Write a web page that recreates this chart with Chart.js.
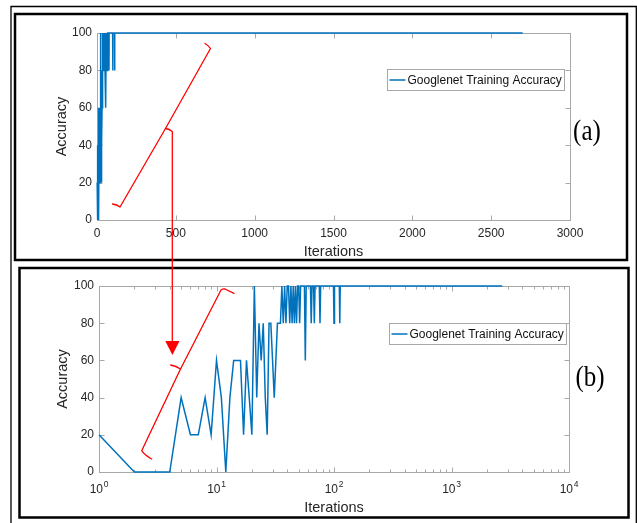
<!DOCTYPE html>
<html>
<head>
<meta charset="utf-8">
<script src="https://cdn.jsdelivr.net/npm/chart.js@4.4.1/dist/chart.umd.min.js"></script>
<style>
  html, body { margin: 0; padding: 0; background: #fff; }
  #wrap { position: relative; width: 637px; height: 523px; overflow: hidden; }
  #wrap canvas { position: absolute; left: 0; }
  #chartA { top: 0; width: 637px; height: 262px; }
  #chartB { top: 262px; width: 637px; height: 261px; }
  #overlay { position: absolute; left: 0; top: 0; pointer-events: none; }
</style>
</head>
<body>
<div id="wrap">
  <canvas id="chartA" width="637" height="262"></canvas>
  <canvas id="chartB" width="637" height="261"></canvas>
  <svg id="overlay" width="637" height="523" xmlns="http://www.w3.org/2000/svg">
    <!-- frames -->
    <polyline points="11,540 11,6.5 636.3,6.5 636.3,540" fill="none" stroke="#000" stroke-width="1.3"/>
    <rect x="15" y="14" width="612" height="246" fill="none" stroke="#000" stroke-width="2.5"/>
    <rect x="19.5" y="268" width="609" height="249.5" fill="none" stroke="#000" stroke-width="2.5"/>
    <!-- panel tags -->
    <text transform="translate(587,139.5) scale(1,1.15)" text-anchor="middle"
          font-family="Liberation Serif, Times New Roman, serif" font-size="25" fill="#000">(a)</text>
    <text transform="translate(590,386) scale(1,1.15)" text-anchor="middle"
          font-family="Liberation Serif, Times New Roman, serif" font-size="25" fill="#000">(b)</text>
    <!-- red annotations -->
    <g fill="none" stroke="#ff0000" stroke-width="1.3" stroke-linejoin="round" stroke-linecap="round">
      <path d="M112.5,204 Q117,204.5 120,207 L165.5,128.5 L210.5,48.5 Q208.5,45.5 205,43.5"/>
      <path d="M165.5,128.5 Q169.5,129 172.3,131.5 L172.3,342"/>
      <path d="M151.7,459 Q145,455.5 141.7,450.7 L180.5,369 L221,290 Q223,288.5 225,289 L234,293.3"/>
      <path d="M180.5,369 Q176,366 170.7,365"/>
    </g>
    <polygon points="165.3,341 179.5,341 172.4,355" fill="#ff0000"/>
  </svg>
</div>
<script>
// Googlenet training accuracy per iteration
const iterations = [
  1, 2, 3, 4, 5, 6, 7, 8, 9, 10,
  11, 12, 13, 14, 15, 16, 17, 18, 19, 20,
  21, 22, 23, 24, 25, 26, 27, 28, 29, 30,
  31, 32, 33, 34, 35, 36, 37, 38, 39, 40,
  41, 42, 43, 44, 45, 46, 47, 48, 49, 50,
  51, 52, 56, 57, 58, 63, 64, 65, 67, 68,
  69, 75, 76, 77, 99, 100, 101, 111, 112, 113,
  2700
];
const accuracy = [
  20, 0, 0, 0, 40, 20, 20, 40, 20, 60,
  40, 0, 40, 60, 60, 60, 20, 60, 40, 20,
  100, 40, 80, 60, 80, 40, 20, 80, 80, 60,
  40, 60, 80, 80, 80, 100, 80, 100, 80, 100,
  100, 80, 100, 80, 100, 80, 100, 80, 100, 100,
  80, 100, 100, 60, 100, 100, 80, 100, 100, 80,
  100, 100, 80, 100, 100, 80, 100, 100, 80, 100,
  100
];

const linearTicks = [0, 500, 1000, 1500, 2000, 2500, 3000];
const logTicks = [1, 10, 100, 1000, 10000];
const logExponents = ['0', '1', '2', '3', '4'];
const accuracyTicks = [0, 20, 40, 60, 80, 100];
const seriesLabel = 'Googlenet Training Accuracy';

const FONT = '"Liberation Sans", Arial, Helvetica, sans-serif';
const axisColor = '#a8a8a8';
const lineColor = '#0072bd';
const textColor = '#262626';

Chart.defaults.font.family = FONT;
Chart.defaults.font.size = 12;
Chart.defaults.color = textColor;

// box round the plot with inward tick marks (MATLAB style)
const boxTicks = {
  id: 'boxTicks',
  beforeDatasetsDraw(chart, args, opts) {
    const { ctx, chartArea: a, scales: { x, y } } = chart;
    ctx.save();
    ctx.strokeStyle = axisColor;
    ctx.lineWidth = 1;
    const L = Math.round(a.left) + 0.5, R = Math.round(a.right) + 0.5;
    const T = Math.round(a.top) + 0.5, B = Math.round(a.bottom) + 0.5;
    ctx.strokeRect(L, T, R - L, B - T);
    ctx.beginPath();
    const xMark = (v, len) => {
      const px = Math.round(x.getPixelForValue(v)) + 0.5;
      ctx.moveTo(px, B); ctx.lineTo(px, B - len);
      ctx.moveTo(px, T); ctx.lineTo(px, T + len);
    };
    x.ticks.forEach(t => xMark(t.value, 5));
    if (opts.logMinor) {
      for (let d = 1; d < 10000; d *= 10) {
        for (let k = 2; k <= 9; k++) xMark(k * d, 3);
      }
    }
    y.ticks.forEach(t => {
      const py = Math.round(y.getPixelForValue(t.value)) + 0.5;
      ctx.moveTo(L, py); ctx.lineTo(L + 5, py);
      ctx.moveTo(R, py); ctx.lineTo(R - 5, py);
    });
    ctx.stroke();
    ctx.restore();
  },
  afterDraw(chart, args, opts) {
    if (!opts.logMinor) return;
    const { ctx, chartArea: a, scales: { x } } = chart;
    ctx.save();
    ctx.fillStyle = textColor;
    ctx.textAlign = 'left';
    ctx.textBaseline = 'alphabetic';
    logTicks.forEach((v, i) => {
      const px = x.getPixelForValue(v);
      ctx.font = '12px ' + FONT;
      const w = ctx.measureText('10').width;
      ctx.fillText('10', px - 9.3, a.bottom + 20.5);
      ctx.font = '8.5px ' + FONT;
      ctx.fillText(logExponents[i], px - 9.3 + w + 0.8, a.bottom + 14.7);
    });
    ctx.restore();
  }
};

// legend drawn inside the plot, near the top right corner
const insideLegend = {
  id: 'insideLegend',
  afterDraw(chart, args, opts) {
    const { ctx, chartArea: a } = chart;
    const ds = chart.data.datasets[0];
    ctx.save();
    ctx.font = '12px ' + FONT;
    const tw = ctx.measureText(ds.label).width;
    const w = Math.round(2 + 16 + 2 + tw + 3);
    const h = 21;
    const x0 = Math.round(a.right - opts.right - w) + 0.5;
    const y0 = Math.round(a.top + opts.top) + 0.5;
    ctx.fillStyle = '#fff';
    ctx.fillRect(x0, y0, w, h);
    ctx.strokeStyle = axisColor;
    ctx.lineWidth = 1;
    ctx.strokeRect(x0, y0, w, h);
    ctx.strokeStyle = ds.borderColor;
    ctx.lineWidth = 1.5;
    ctx.beginPath();
    ctx.moveTo(x0 + 2, y0 + h / 2);
    ctx.lineTo(x0 + 18, y0 + h / 2);
    ctx.stroke();
    ctx.fillStyle = '#111';
    ctx.textBaseline = 'middle';
    ctx.fillText(ds.label, x0 + 20, y0 + h / 2 + 0.5);
    ctx.restore();
  }
};

function yScale(width, titlePad) {
  return {
    min: 0,
    max: 100,
    afterBuildTicks: s => { s.ticks = accuracyTicks.map(v => ({ value: v })); },
    afterFit: s => { s.width = width; },
    grid: { display: false, drawTicks: false },
    border: { display: false },
    ticks: { padding: 5, autoSkip: false, callback: v => String(v) },
    title: { display: true, text: 'Accuracy', font: { size: 14.5 }, padding: { top: titlePad, bottom: 0 } }
  };
}

function dataset() {
  return {
    label: seriesLabel,
    data: iterations.map((it, i) => ({ x: it, y: accuracy[i] })),
    borderColor: lineColor,
    backgroundColor: lineColor,
    borderWidth: 1.5,
    pointRadius: 0,
    tension: 0,
    fill: false,
    clip: 3
  };
}

new Chart(document.getElementById('chartA'), {
  type: 'line',
  data: { datasets: [dataset()] },
  options: {
    responsive: false,
    animation: false,
    layout: { padding: { left: 0, top: 33, right: 67, bottom: 0 } },
    plugins: {
      legend: { display: false },
      tooltip: { enabled: false },
      boxTicks: { logMinor: false },
      insideLegend: { top: 36, right: 6 }
    },
    scales: {
      x: {
        type: 'linear',
        min: 0,
        max: 3000,
        afterBuildTicks: s => { s.ticks = linearTicks.map(v => ({ value: v })); },
        afterFit: s => { s.height = 42; },
        grid: { display: false, drawTicks: false },
        border: { display: false },
        ticks: { padding: 6, maxRotation: 0, autoSkip: false, callback: v => String(v) },
        title: { display: true, text: 'Iterations', font: { size: 14.5 }, padding: { top: 0, bottom: 1.3 } }
      },
      y: yScale(97, 52.8)
    }
  },
  plugins: [boxTicks, insideLegend]
});

new Chart(document.getElementById('chartB'), {
  type: 'line',
  data: { datasets: [dataset()] },
  options: {
    responsive: false,
    animation: false,
    layout: { padding: { left: 0, top: 24, right: 68, bottom: 0 } },
    plugins: {
      legend: { display: false },
      tooltip: { enabled: false },
      boxTicks: { logMinor: true },
      insideLegend: { top: 37, right: 3 }
    },
    scales: {
      x: {
        type: 'logarithmic',
        min: 1,
        max: 10000,
        afterBuildTicks: s => { s.ticks = logTicks.map(v => ({ value: v })); },
        afterFit: s => { s.height = 51; },
        grid: { display: false, drawTicks: false },
        border: { display: false },
        ticks: { display: false },
        title: { display: true, text: 'Iterations', font: { size: 14.5 }, padding: { top: 0, bottom: 6.3 } }
      },
      y: yScale(99, 54)
    }
  },
  plugins: [boxTicks, insideLegend]
});
</script>
</body>
</html>
